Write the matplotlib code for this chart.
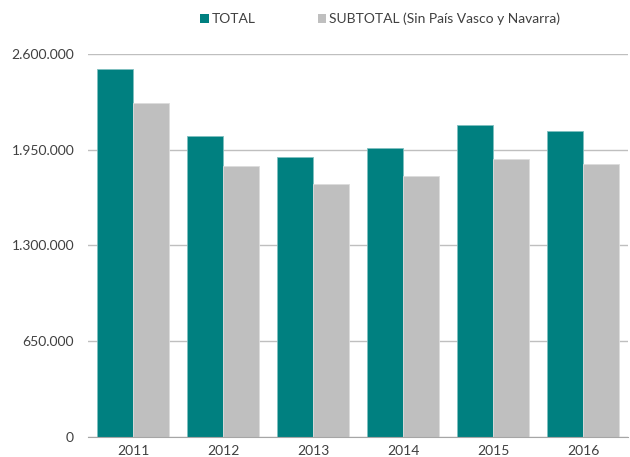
import matplotlib
matplotlib.use("Agg")
import matplotlib.pyplot as plt
from matplotlib.patches import Patch
from matplotlib.ticker import FuncFormatter
import numpy as np

plt.rcParams['font.family'] = ['Lato', 'DejaVu Sans']

years = ["2011", "2012", "2013", "2014", "2015", "2016"]
total = [2500000, 2046000, 1903000, 1964000, 2116000, 2076000]
subtotal = [2266000, 1842000, 1715000, 1770000, 1890000, 1852000]
series_names = ["TOTAL", "SUBTOTAL (Sin País Vasco y Navarra)"]
yticks = [0, 650000, 1300000, 1950000, 2600000]

c_total = "#008080"
c_sub = "#BFBFBF"

fig = plt.figure(figsize=(6.3, 4.57), dpi=100)
ax = fig.add_axes([88/630, 20/457, 540/630, 383/457])

x = np.arange(len(years))
w = 0.4
ax.bar(x - w/2, total, w, color=c_total, edgecolor="#7fbfbf", linewidth=0.6, zorder=3)
ax.bar(x + w/2, subtotal, w, color=c_sub, edgecolor="#dcdcdc", linewidth=0.6, zorder=3)

ax.set_xlim(-0.5, len(years) - 0.5)
ax.set_ylim(0, 2600000)
ax.set_yticks(yticks)
ax.yaxis.set_major_formatter(FuncFormatter(lambda v, p: f"{int(v):,}".replace(",", ".")))
ax.set_xticks(x)
ax.set_xticklabels(years)
ax.grid(axis="y", color="#BFBFBF", linewidth=1.0, zorder=0)
for s in ["top", "right", "left"]:
    ax.spines[s].set_visible(False)
ax.spines["bottom"].set_color("#A6A6A6")
ax.spines["bottom"].set_zorder(4)
ax.tick_params(axis="both", length=0, labelsize=10, colors="#404040")
ax.tick_params(axis="y", pad=10)
ax.tick_params(axis="x", pad=6)

handles = [Patch(facecolor=c_total, edgecolor="none"), Patch(facecolor=c_sub, edgecolor="none")]
fig.legend(handles, series_names, loc="center", bbox_to_anchor=(380/630, 1 - 19/457),
           ncol=2, frameon=False, fontsize=10, handlelength=0.6, handleheight=0.6,
           handletextpad=0.2, columnspacing=4.5, labelcolor="#404040")

fig.savefig("out.png", dpi=100)
